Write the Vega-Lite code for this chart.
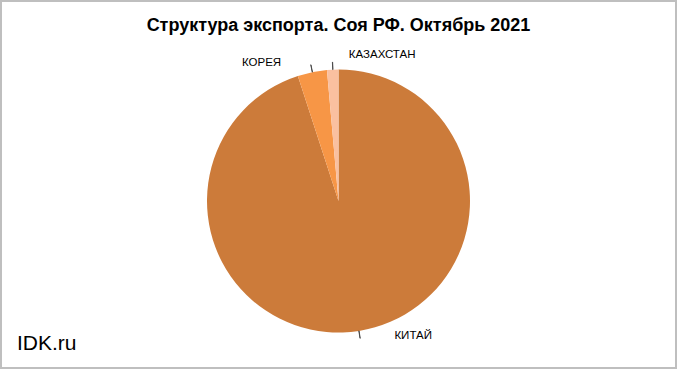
{
  "$schema": "https://vega.github.io/schema/vega-lite/v6.json",
  "width": 675,
  "height": 367,
  "autosize": {"type": "none"},
  "padding": {"left": 1, "top": 1, "right": 4, "bottom": 6},
  "background": "white",
  "view": {"stroke": "#BFBFBF", "strokeWidth": 2, "fill": "white"},
  "config": {"view": {"stroke": "#BFBFBF", "strokeWidth": 2}},
  "title": {
    "text": "Структура экспорта. Соя РФ. Октябрь 2021",
    "font": "Liberation Sans",
    "fontSize": 18,
    "fontWeight": "bold",
    "color": "#000000",
    "anchor": "middle",
    "offset": -34
  },
  "data": {
    "values": [
      {"country": "КИТАЙ", "share": 95.0},
      {"country": "КОРЕЯ", "share": 3.6},
      {"country": "КАЗАХСТАН", "share": 1.4}
    ]
  },
  "transform": [
    {"window": [{"op": "sum", "field": "share", "as": "cum"}], "sort": [{"field": "share", "order": "descending"}]},
    {"calculate": "datum.cum - datum.share / 2", "as": "mid"},
    {"calculate": "datum.mid + 0.03", "as": "mid2"}
  ],
  "resolve": {"scale": {"theta": "independent"}},
  "layer": [
    {
      "mark": {"type": "arc", "radius": 131.5, "x": {"expr": "width/2"}, "y": {"expr": "height/2 + 16.5"}},
      "encoding": {
        "theta": {"field": "share", "type": "quantitative", "stack": true},
        "order": {"field": "share", "sort": "descending"},
        "color": {
          "field": "country",
          "type": "nominal",
          "scale": {"domain": ["КИТАЙ", "КОРЕЯ", "КАЗАХСТАН"], "range": ["#CC7B3A", "#F79646", "#FAC0A0"]},
          "legend": null
        }
      }
    },
    {
      "mark": {"type": "arc", "radius": 139, "radius2": 131.5, "x": {"expr": "width/2"}, "y": {"expr": "height/2 + 16.5"}, "fill": "#404040", "stroke": "#404040", "strokeWidth": 0.8},
      "encoding": {
        "theta": {"field": "mid", "type": "quantitative", "stack": false, "scale": {"domain": [0, 100]}},
        "theta2": {"field": "mid2"}
      }
    },
    {
      "transform": [{"filter": "datum.country == 'КИТАЙ'"}],
      "mark": {"type": "text", "radius": 145, "x": {"expr": "width/2"}, "y": {"expr": "height/2 + 16.5"}, "dx": 52, "dy": -8, "font": "Liberation Sans", "fontSize": 11.5, "color": "#000000", "align": "center", "baseline": "middle"},
      "encoding": {
        "theta": {"field": "mid", "type": "quantitative", "stack": false, "scale": {"domain": [0, 100]}},
        "text": {"field": "country"}
      }
    },
    {
      "transform": [{"filter": "datum.country == 'КОРЕЯ'"}],
      "mark": {"type": "text", "radius": 145, "x": {"expr": "width/2"}, "y": {"expr": "height/2 + 16.5"}, "dx": -48, "dy": 4, "font": "Liberation Sans", "fontSize": 11.5, "color": "#000000", "align": "center", "baseline": "middle"},
      "encoding": {
        "theta": {"field": "mid", "type": "quantitative", "stack": false, "scale": {"domain": [0, 100]}},
        "text": {"field": "country"}
      }
    },
    {
      "transform": [{"filter": "datum.country == 'КАЗАХСТАН'"}],
      "mark": {"type": "text", "radius": 145, "x": {"expr": "width/2"}, "y": {"expr": "height/2 + 16.5"}, "dx": 50, "dy": -1, "font": "Liberation Sans", "fontSize": 11.5, "color": "#000000", "align": "center", "baseline": "middle"},
      "encoding": {
        "theta": {"field": "mid", "type": "quantitative", "stack": false, "scale": {"domain": [0, 100]}},
        "text": {"field": "country"}
      }
    },
    {
      "data": {"values": [{"site": "IDK.ru"}]},
      "transform": [],
      "mark": {"type": "text", "x": 16, "y": {"expr": "height - 18"}, "font": "Liberation Sans", "fontSize": 21, "color": "#000000", "align": "left", "baseline": "alphabetic"},
      "encoding": {"text": {"field": "site"}}
    }
  ]
}
